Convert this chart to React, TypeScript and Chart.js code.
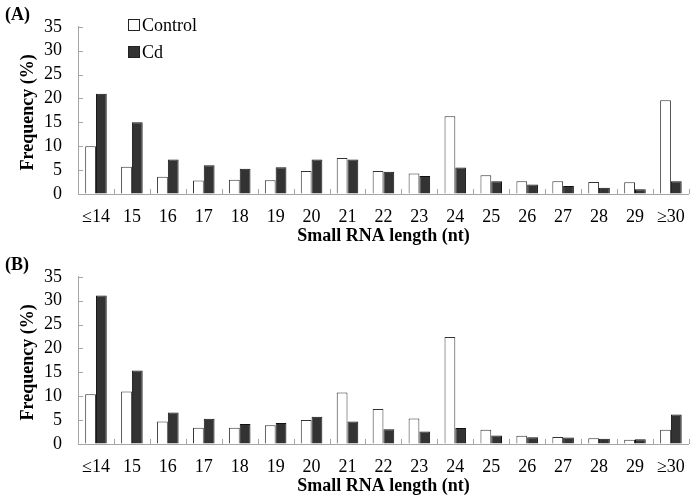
import React, { useEffect, useRef } from "react";
import { Chart, registerables } from "chart.js";

Chart.register(...registerables);

const categories = ["≤14", "15", "16", "17", "18", "19", "20", "21", "22", "23", "24", "25", "26", "27", "28", "29", "≥30"];
const controlA = [10.0, 5.7, 3.6, 2.8, 3.0, 2.9, 4.8, 7.55, 4.8, 4.3, 16.3, 3.9, 2.65, 2.65, 2.5, 2.45, 19.6];
const cdA = [21.0, 15.0, 7.2, 6.0, 5.3, 5.6, 7.2, 7.2, 4.65, 3.75, 5.55, 2.65, 2.0, 1.7, 1.3, 1.0, 2.65];
const controlB = [10.4, 11.0, 4.7, 3.4, 3.4, 3.9, 5.0, 10.8, 7.35, 5.35, 22.4, 2.97, 1.74, 1.48, 1.22, 0.9, 2.97];
const cdB = [31.1, 15.4, 6.6, 5.3, 4.2, 4.4, 5.7, 4.7, 3.1, 2.6, 3.35, 1.8, 1.42, 1.35, 1.1, 0.97, 6.2];
const yTicks = { min: 0, max: 35, step: 5 };
const seriesNames = ["Control", "Cd"];
const xTitle = "Small RNA length (nt)";
const yTitle = "Frequency (%)";

const FONT = '"Liberation Serif", "Times New Roman", serif';
const AXIS = "#a6a6a6";

function Panel({ label, control, cd, showLegend, topPad }: { label: string; control: number[]; cd: number[]; showLegend: boolean; topPad: number }) {
  const ref = useRef<HTMLCanvasElement>(null);
  useEffect(() => {
    const canvas = ref.current!;
    const deco = {
      id: "deco",
      afterDraw(chart: any) {
        const ctx = chart.ctx;
        const { left, right, top, bottom } = chart.chartArea;
        const ys = chart.scales.y;
        ctx.save();
        ctx.strokeStyle = AXIS;
        ctx.lineWidth = 1;
        ctx.beginPath();
        for (let v = yTicks.min; v <= yTicks.max; v += yTicks.step) {
          const y = Math.round(ys.getPixelForValue(v)) + 0.5;
          ctx.moveTo(left, y);
          ctx.lineTo(left + 5, y);
        }
        const n = categories.length;
        for (let i = 0; i <= n; i++) {
          const x = Math.round(left + (i * (right - left)) / n) + 0.5;
          ctx.moveTo(x, bottom);
          ctx.lineTo(x, bottom - 5);
        }
        ctx.stroke();

        ctx.fillStyle = "#000";
        ctx.textBaseline = "middle";
        ctx.font = `bold 18px ${FONT}`;
        ctx.textAlign = "left";
        ctx.fillText(label, 5, 15);
        ctx.textAlign = "center";
        ctx.fillText(xTitle, (left + right) / 2, 236);
        ctx.save();
        ctx.translate(28, (top + bottom) / 2 + 2);
        ctx.rotate(-Math.PI / 2);
        ctx.fillText(yTitle, 0, 0);
        ctx.restore();

        if (showLegend) {
          ctx.font = `18px ${FONT}`;
          ctx.textAlign = "left";
          const rows = [
            { name: seriesNames[0], fill: "#ffffff", y: 25 },
            { name: seriesNames[1], fill: "#333333", y: 52 },
          ];
          for (const r of rows) {
            ctx.fillStyle = r.fill;
            ctx.fillRect(128.5, r.y - 5.5, 11, 11);
            ctx.strokeStyle = "#222";
            ctx.strokeRect(128.5, r.y - 5.5, 11, 11);
            ctx.fillStyle = "#000";
            ctx.fillText(r.name, 142, r.y + 1);
          }
        }
        ctx.restore();
      },
    };
    const chart = new Chart(canvas, {
      type: "bar",
      data: {
        labels: categories,
        datasets: [
          { label: seriesNames[0], data: control, backgroundColor: "#ffffff", borderColor: "#333333", borderWidth: 1, categoryPercentage: 0.6, barPercentage: 1.0 },
          { label: seriesNames[1], data: cd, backgroundColor: "#333333", borderColor: "#111111", borderWidth: 1, categoryPercentage: 0.6, barPercentage: 1.0 },
        ],
      },
      options: {
        responsive: false,
        animation: false,
        devicePixelRatio: 1,
        layout: { padding: { left: 0, right: 5, top: topPad, bottom: 0 } },
        plugins: { legend: { display: false }, tooltip: { enabled: false }, title: { display: false } },
        scales: {
          x: {
            grid: { display: true, drawOnChartArea: false, drawTicks: false, offset: true },
            border: { display: true, color: AXIS, width: 1 },
            ticks: { color: "#000", font: { family: FONT, size: 18 }, padding: 12, maxRotation: 0, autoSkip: false },
            afterFit: (s: any) => { s.height = 250 - 194; },
          },
          y: {
            min: yTicks.min,
            max: yTicks.max,
            grid: { display: true, drawOnChartArea: false, drawTicks: false },
            border: { display: true, color: AXIS, width: 1 },
            ticks: { stepSize: yTicks.step, autoSkip: false, color: "#000", font: { family: FONT, size: 18 }, padding: 16 },
            afterFit: (s: any) => { s.width = 78; },
          },
        },
      },
      plugins: [deco],
    });
    return () => chart.destroy();
  }, []);
  return <canvas ref={ref} width={697} height={250} style={{ display: "block" }} />;
}

export default function App() {
  return (
    <div style={{ position: "absolute", left: 0, top: 0, width: 697, height: 500, background: "#fff" }}>
      <Panel label="(A)" control={controlA} cd={cdA} showLegend={true} topPad={14} />
      <Panel label="(B)" control={controlB} cd={cdB} showLegend={false} topPad={13} />
    </div>
  );
}
